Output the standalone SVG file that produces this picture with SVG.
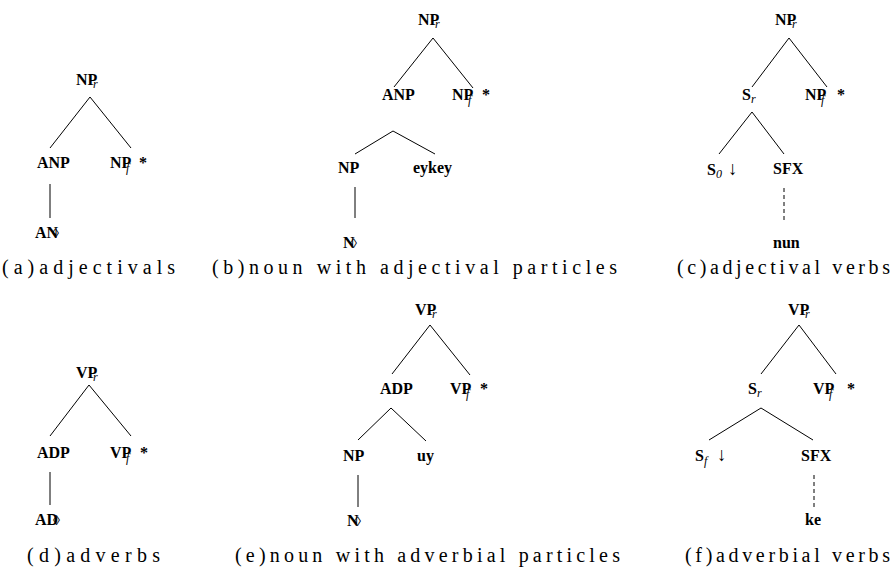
<svg xmlns="http://www.w3.org/2000/svg" width="892" height="577" viewBox="0 0 892 577">
<style>
.n{font-family:"Liberation Serif","DejaVu Serif",serif;font-weight:bold;font-size:16px;fill:#000}
.s{font-family:"Liberation Serif","DejaVu Serif",serif;font-style:italic;font-size:12px;fill:#000}
.d{font-family:"Liberation Serif","DejaVu Serif",serif;font-size:14px;fill:#000}
.ar{font-family:"Liberation Serif","DejaVu Serif",serif;font-size:19px;fill:#000}
.cap{font-family:"Liberation Serif","DejaVu Serif",serif;font-size:20px;fill:#000}
.e{stroke:#000;stroke-width:1;fill:none}
.ds{stroke:#000;stroke-width:1;fill:none;stroke-dasharray:4,3}
</style>
<rect width="892" height="577" fill="#fff"/>
<g id="connectors">
<line class="e" x1="90" y1="97" x2="50" y2="148"/>
<line class="e" x1="90" y1="97" x2="131" y2="148"/>
<line class="e" x1="50" y1="184" x2="50" y2="218"/>
<line class="e" x1="433" y1="38" x2="394" y2="87"/>
<line class="e" x1="433" y1="38" x2="473" y2="88"/>
<line class="e" x1="393" y1="131" x2="355" y2="154"/>
<line class="e" x1="393" y1="131" x2="435" y2="154"/>
<line class="e" x1="355" y1="187" x2="355" y2="218"/>
<line class="e" x1="789" y1="38" x2="752" y2="87"/>
<line class="e" x1="789" y1="38" x2="827" y2="87"/>
<line class="e" x1="752" y1="112" x2="719" y2="154"/>
<line class="e" x1="752" y1="112" x2="784" y2="154"/>
<line class="ds" x1="784" y1="188" x2="784" y2="220"/>
<line class="e" x1="89" y1="385" x2="50" y2="436"/>
<line class="e" x1="89" y1="385" x2="131" y2="436"/>
<line class="e" x1="50" y1="472" x2="50" y2="505"/>
<line class="e" x1="430" y1="325" x2="392" y2="374"/>
<line class="e" x1="430" y1="325" x2="470" y2="375"/>
<line class="e" x1="391" y1="408" x2="358" y2="440"/>
<line class="e" x1="391" y1="408" x2="426" y2="441"/>
<line class="e" x1="358" y1="475" x2="358" y2="507"/>
<line class="e" x1="799" y1="325" x2="761" y2="374"/>
<line class="e" x1="799" y1="325" x2="836" y2="374"/>
<line class="e" x1="761" y1="408" x2="709" y2="440"/>
<line class="e" x1="761" y1="408" x2="813" y2="440"/>
<line class="ds" x1="814" y1="475" x2="814" y2="508"/>
</g>
<!-- (a) -->
<g id="a-root"><text class="n" x="76" y="85">NP</text><text class="s" x="93" y="88">r</text></g>
<g id="a-anp"><text class="n" x="37" y="168">ANP</text></g>
<g id="a-npf"><text class="n" x="110" y="168">NP</text><text class="s" x="126" y="172">f</text><text class="n" x="139" y="168">*</text></g>
<g id="a-an"><text class="n" x="35" y="238">AN</text><text class="d" x="52" y="238">◊</text></g>
<!-- (b) -->
<g id="b-root"><text class="n" x="418" y="25">NP</text><text class="s" x="435" y="28">r</text></g>
<g id="b-anp"><text class="n" x="382" y="100">ANP</text></g>
<g id="b-npf"><text class="n" x="452" y="100">NP</text><text class="s" x="468" y="104">f</text><text class="n" x="482" y="100">*</text></g>
<g id="b-np"><text class="n" x="338" y="173">NP</text></g>
<g id="b-eykey"><text class="n" x="413" y="173">eykey</text></g>
<g id="b-n"><text class="n" x="343" y="248">N</text><text class="d" x="350" y="248">◊</text></g>
<!-- (c) -->
<g id="c-root"><text class="n" x="775" y="25">NP</text><text class="s" x="792" y="28">r</text></g>
<g id="c-sr"><text class="n" x="742" y="100">S</text><text class="s" x="751" y="103">r</text></g>
<g id="c-npf"><text class="n" x="805" y="100">NP</text><text class="s" x="821" y="104">f</text><text class="n" x="837" y="100">*</text></g>
<g id="c-s0"><text class="n" x="707" y="175">S</text><text class="s" x="716" y="178">0</text><text class="ar" x="728" y="175">↓</text></g>
<g id="c-sfx"><text class="n" x="773" y="174">SFX</text></g>
<g id="c-nun"><text class="n" x="773" y="248">nun</text></g>
<!-- (d) -->
<g id="d-root"><text class="n" x="76" y="378">VP</text><text class="s" x="93" y="381">r</text></g>
<g id="d-adp"><text class="n" x="37" y="458">ADP</text></g>
<g id="d-vpf"><text class="n" x="110" y="458">VP</text><text class="s" x="126" y="462">f</text><text class="n" x="140" y="458">*</text></g>
<g id="d-ad"><text class="n" x="35" y="525">AD</text><text class="d" x="53" y="525">◊</text></g>
<!-- (e) -->
<g id="e-root"><text class="n" x="415" y="315">VP</text><text class="s" x="432" y="318">r</text></g>
<g id="e-adp"><text class="n" x="380" y="394">ADP</text></g>
<g id="e-vpf"><text class="n" x="450" y="394">VP</text><text class="s" x="466" y="398">f</text><text class="n" x="480" y="394">*</text></g>
<g id="e-np"><text class="n" x="343" y="461">NP</text></g>
<g id="e-uy"><text class="n" x="417" y="461">uy</text></g>
<g id="e-n"><text class="n" x="347" y="526">N</text><text class="d" x="354" y="526">◊</text></g>
<!-- (f) -->
<g id="f-root"><text class="n" x="788" y="315">VP</text><text class="s" x="805" y="318">r</text></g>
<g id="f-sr"><text class="n" x="748" y="394">S</text><text class="s" x="757" y="397">r</text></g>
<g id="f-vpf"><text class="n" x="813" y="394">VP</text><text class="s" x="829" y="398">f</text><text class="n" x="847" y="394">*</text></g>
<g id="f-sf"><text class="n" x="695" y="461">S</text><text class="s" x="704" y="465">f</text><text class="ar" x="717" y="461">↓</text></g>
<g id="f-sfx"><text class="n" x="801" y="461">SFX</text></g>
<g id="f-ke"><text class="n" x="805" y="525">ke</text></g>
<!-- captions -->
<g id="captions">
<text class="cap" x="2" y="274" textLength="173" lengthAdjust="spacing">(a)adjectivals</text>
<text class="cap" x="212" y="274" textLength="405" lengthAdjust="spacing">(b)noun with adjectival particles</text>
<text class="cap" x="677" y="274" textLength="213" lengthAdjust="spacing">(c)adjectival verbs</text>
<text class="cap" x="27" y="562" textLength="133" lengthAdjust="spacing">(d)adverbs</text>
<text class="cap" x="235" y="562" textLength="385" lengthAdjust="spacing">(e)noun with adverbial particles</text>
<text class="cap" x="685" y="562" textLength="205" lengthAdjust="spacing">(f)adverbial verbs</text>
</g>
</svg>
